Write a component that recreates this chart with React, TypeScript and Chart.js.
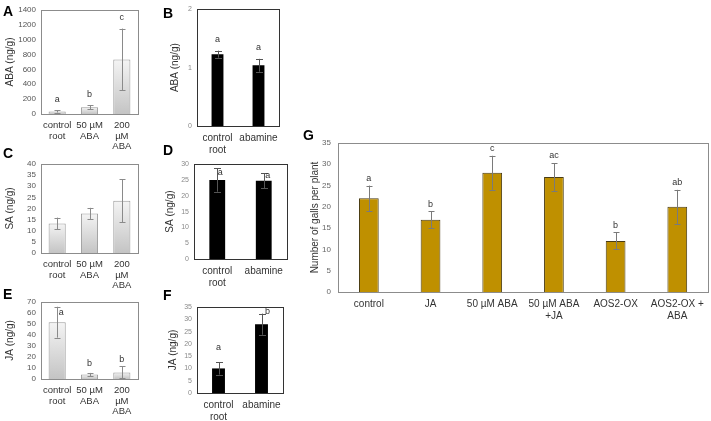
import React, { useEffect, useRef } from "react";
import { Chart, registerables } from "chart.js";
Chart.register(...registerables);

// ---------- data ----------
const abaTreatCats = [["control", "root"], ["50 µM", "ABA"], ["200", "µM", "ABA"]];
const abamineCats = [["control", "root"], "abamine"];
const gCats = ["control", "JA", "50 µM ABA", ["50 µM ABA", "+JA"], "AOS2-OX", ["AOS2-OX +", "ABA"]];

const aValues = [35, 90, 735];
const aErrors = [15, 27, 415];
const aLetters = ["a", "b", "c"];
const aTicks = { max: 1400, step: 200 };

const bValues = [1.23, 1.04];
const bErrors = [0.06, 0.11];
const bLetters = ["a", "a"];
const bTicks = { max: 2, step: 1 };

const cValues = [13.3, 17.8, 23.5];
const cErrors = [2.6, 2.5, 9.6];
const cTicks = { max: 40, step: 5 };

const dValues = [25, 24.8];
const dErrors = [3.7, 2.4];
const dLetters = ["a", "a"];
const dTicks = { max: 30, step: 5 };

const eValues = [51.5, 4, 6];
const eErrors = [14, 1.5, 5.5];
const eLetters = ["a", "b", "b"];
const eTicks = { max: 70, step: 10 };

const fValues = [10, 28];
const fErrors = [2.5, 4.3];
const fLetters = ["a", "b"];
const fTicks = { max: 35, step: 5 };

const gValues = [22, 17, 28, 27, 12, 20];
const gErrors = [3, 2, 4, 3.3, 2, 4];
const gLetters = ["a", "b", "c", "ac", "b", "ab"];
const gTicks = { max: 35, step: 5 };

const FONT = "'Liberation Sans', Arial, sans-serif";

// ---------- plugins ----------
const boxPlugin = {
  id: "boxFrame",
  afterDatasetsDraw(chart: any, _a: any, opts: any) {
    const { ctx, chartArea: ca } = chart;
    ctx.save();
    ctx.strokeStyle = opts.color || "#888";
    ctx.lineWidth = 1;
    ctx.strokeRect(Math.round(ca.left) + 0.5, Math.round(ca.top) + 0.5, Math.round(ca.right - ca.left), Math.round(ca.bottom - ca.top));
    ctx.restore();
  },
};

const errPlugin = {
  id: "errLetters",
  afterDraw(chart: any, _a: any, opts: any) {
    const { ctx } = chart;
    const ys = chart.scales.y;
    const meta = chart.getDatasetMeta(0);
    const vals = chart.data.datasets[0].data as number[];
    const errs: number[] = opts.errors || [];
    const letters: string[] = opts.letters || [];
    const offs: number[][] = opts.offsets || [];
    ctx.save();
    meta.data.forEach((bar: any, i: number) => {
      const v = vals[i];
      const e = errs[i] || 0;
      const x = Math.round(bar.x) + 0.5;
      const yt = ys.getPixelForValue(v + e);
      const yb = ys.getPixelForValue(Math.max(0, v - e));
      ctx.strokeStyle = opts.color;
      ctx.lineWidth = 1;
      ctx.beginPath();
      ctx.moveTo(x, yt);
      ctx.lineTo(x, yb);
      const cw = opts.capW / 2;
      ctx.moveTo(x - cw, Math.round(yt) + 0.5);
      ctx.lineTo(x + cw, Math.round(yt) + 0.5);
      ctx.moveTo(x - cw, Math.round(yb) + 0.5);
      ctx.lineTo(x + cw, Math.round(yb) + 0.5);
      ctx.stroke();
      if (letters[i]) {
        const o = offs[i] || [0, 0];
        ctx.fillStyle = opts.letterColor || "#333";
        ctx.font = `${opts.letterSize || 9}px ${FONT}`;
        ctx.textAlign = "center";
        ctx.textBaseline = "middle";
        ctx.fillText(letters[i], bar.x + o[0], yt - opts.gap + o[1]);
      }
    });
    ctx.restore();
  },
};

// ---------- panel ----------
type Cfg = {
  canvas: { x: number; y: number; w: number; h: number };
  area: { l: number; t: number; r: number; b: number };
  labels: any[];
  values: number[];
  errors: number[];
  letters?: string[];
  offsets?: number[][];
  gap: number;
  ticks: { max: number; step: number };
  yTitle: string;
  titlePad: number;
  barPct: number;
  fill: string;
  border: string;
  borderW: number;
  errColor: string;
  capW: number;
  boxColor: string;
  tickSize: number;
  tickColor: string;
  tickPad: number;
  xSize: number;
  xColor: string;
  xPad: number;
  titleSize: number;
  titleColor: string;
};

function Panel({ cfg }: { cfg: Cfg }) {
  const ref = useRef<HTMLCanvasElement>(null);
  useEffect(() => {
    const c = cfg;
    const yW = c.area.l - c.canvas.x;
    const xH = c.canvas.y + c.canvas.h - c.area.b;
    const padTop = c.area.t - c.canvas.y;
    const padRight = c.canvas.x + c.canvas.w - c.area.r;
    const bg =
      c.fill === "gradient"
        ? (ctx: any) => {
            const chart = ctx.chart;
            const ys = chart.scales && chart.scales.y;
            if (!ys || ctx.raw == null) return "#ddd";
            const top = ys.getPixelForValue(ctx.raw);
            const bot = ys.getPixelForValue(0);
            if (!isFinite(top) || !isFinite(bot) || top === bot) return "#ddd";
            const g = chart.ctx.createLinearGradient(0, top, 0, bot);
            g.addColorStop(0, "#f4f4f4");
            g.addColorStop(1, "#c4c4c4");
            return g;
          }
        : c.fill;
    const chart = new Chart(ref.current as HTMLCanvasElement, {
      type: "bar",
      data: {
        labels: c.labels,
        datasets: [
          {
            data: c.values,
            backgroundColor: bg as any,
            borderColor: c.border,
            borderWidth: c.borderW,
            barPercentage: c.barPct,
            categoryPercentage: 1,
          },
        ],
      },
      options: {
        animation: false,
        responsive: false,
        events: [],
        layout: { padding: { top: padTop, right: padRight, left: 0, bottom: 0 } },
        plugins: {
          legend: { display: false },
          tooltip: { enabled: false },
          boxFrame: { color: c.boxColor },
          errLetters: {
            errors: c.errors,
            letters: c.letters,
            offsets: c.offsets,
            gap: c.gap,
            color: c.errColor,
            capW: c.capW,
          },
        } as any,
        scales: {
          x: {
            grid: { display: false, drawTicks: false },
            border: { display: false },
            ticks: {
              autoSkip: false,
              maxRotation: 0,
              minRotation: 0,
              padding: c.xPad,
              color: c.xColor,
              font: { family: FONT, size: c.xSize, lineHeight: 1.12 },
            },
            afterFit: (s: any) => {
              s.height = xH;
            },
          },
          y: {
            min: 0,
            max: c.ticks.max,
            grid: { display: false, drawTicks: false },
            border: { display: false },
            ticks: {
              stepSize: c.ticks.step,
              autoSkip: false,
              padding: c.tickPad,
              color: c.tickColor,
              font: { family: FONT, size: c.tickSize },
              callback: (v: any) => String(v),
            },
            title: {
              display: true,
              text: c.yTitle,
              color: c.titleColor,
              padding: { top: c.titlePad, bottom: 0 },
              font: { family: FONT, size: c.titleSize },
            },
            afterFit: (s: any) => {
              s.width = yW;
            },
          },
        },
      },
      plugins: [boxPlugin, errPlugin],
    });
    return () => chart.destroy();
  }, [cfg]);
  return (
    <canvas
      ref={ref}
      width={cfg.canvas.w}
      height={cfg.canvas.h}
      style={{ position: "absolute", left: cfg.canvas.x, top: cfg.canvas.y, width: cfg.canvas.w, height: cfg.canvas.h }}
    />
  );
}

const grayStyle = {
  barPct: 0.53,
  fill: "gradient",
  border: "#9a9a9a",
  borderW: 1,
  errColor: "#8a8a8a",
  capW: 6,
  boxColor: "#8c8c8c",
  tickSize: 8,
  tickColor: "#555",
  tickPad: 5,
  xSize: 9.5,
  xColor: "#333",
  xPad: 6,
  titleSize: 10,
  titleColor: "#333",
  titlePad: 4,
};

const blackStyle = {
  fill: "#000",
  border: "#000",
  borderW: 0,
  errColor: "#555",
  capW: 7,
  boxColor: "#333",
  tickSize: 7,
  tickColor: "#8a8a8a",
  tickPad: 5,
  xSize: 10,
  xColor: "#333",
  xPad: 7,
  titleSize: 10,
  titleColor: "#333",
};

const panels: Cfg[] = [
  {
    ...grayStyle,
    canvas: { x: 0, y: 0, w: 142, h: 152 },
    area: { l: 41, t: 10, r: 138, b: 114 },
    labels: abaTreatCats,
    values: aValues,
    errors: aErrors,
    letters: aLetters,
    gap: 11,
    ticks: aTicks,
    yTitle: "ABA (ng/g)",
  } as Cfg,
  {
    ...blackStyle,
    canvas: { x: 150, y: 0, w: 145, h: 155 },
    area: { l: 197, t: 4, r: 279, b: 126 },
    labels: abamineCats,
    values: bValues,
    errors: bErrors,
    letters: bLetters,
    gap: 11,
    ticks: bTicks,
    yTitle: "ABA (ng/g)",
    titlePad: 19,
    barPct: 0.29,
  } as Cfg,
  {
    ...grayStyle,
    canvas: { x: 0, y: 152, w: 142, h: 140 },
    area: { l: 41, t: 164, r: 138, b: 253 },
    labels: abaTreatCats,
    values: cValues,
    errors: cErrors,
    gap: 11,
    ticks: cTicks,
    yTitle: "SA (ng/g)",
  } as Cfg,
  {
    ...blackStyle,
    canvas: { x: 150, y: 155, w: 145, h: 135 },
    area: { l: 194, t: 162, r: 287, b: 259 },
    labels: abamineCats,
    values: dValues,
    errors: dErrors,
    letters: dLetters,
    offsets: [[3, 13], [4, 11]],
    gap: 9,
    ticks: dTicks,
    yTitle: "SA (ng/g)",
    titlePad: 14,
    barPct: 0.34,
  } as Cfg,
  {
    ...grayStyle,
    canvas: { x: 0, y: 292, w: 142, h: 129 },
    area: { l: 41, t: 301, r: 138, b: 379 },
    labels: abaTreatCats,
    values: eValues,
    errors: eErrors,
    letters: eLetters,
    offsets: [[4, 15], [0, 0], [0, 2]],
    gap: 9,
    ticks: eTicks,
    yTitle: "JA (ng/g)",
  } as Cfg,
  {
    ...blackStyle,
    canvas: { x: 150, y: 295, w: 145, h: 126 },
    area: { l: 197, t: 307, r: 283, b: 393 },
    labels: abamineCats,
    values: fValues,
    errors: fErrors,
    letters: fLetters,
    offsets: [[0, -6], [6, 7]],
    gap: 9,
    ticks: fTicks,
    yTitle: "JA (ng/g)",
    titlePad: 17,
    barPct: 0.3,
  } as Cfg,
  {
    canvas: { x: 300, y: 125, w: 411, h: 200 },
    area: { l: 338, t: 143, r: 709, b: 292 },
    labels: gCats,
    values: gValues,
    errors: gErrors,
    letters: gLetters,
    gap: 7,
    ticks: gTicks,
    yTitle: "Number of galls per plant",
    titlePad: 9,
    barPct: 0.32,
    fill: "#bf9000",
    border: "#4a3c14",
    borderW: 1,
    errColor: "#7a7a7a",
    capW: 6,
    boxColor: "#8c8c8c",
    tickSize: 8,
    tickColor: "#666",
    tickPad: 7,
    xSize: 10,
    xColor: "#333",
    xPad: 7,
    titleSize: 10,
    titleColor: "#333",
  },
];

const panelLetters = [
  { t: "A", x: 3, y: 4 },
  { t: "B", x: 163, y: 6 },
  { t: "C", x: 3, y: 146 },
  { t: "D", x: 163, y: 143 },
  { t: "E", x: 3, y: 287 },
  { t: "F", x: 163, y: 288 },
  { t: "G", x: 303, y: 128 },
];

export default function App() {
  return (
    <div style={{ position: "fixed", left: 0, top: 0, width: 711, height: 421, background: "#fff", overflow: "hidden" }}>
      {panels.map((p, i) => (
        <Panel key={i} cfg={p} />
      ))}
      {panelLetters.map((l) => (
        <div
          key={l.t}
          style={{
            position: "absolute",
            left: l.x,
            top: l.y,
            font: `bold 14px ${FONT}`,
            lineHeight: "14px",
            color: "#000",
          }}
        >
          {l.t}
        </div>
      ))}
    </div>
  );
}
